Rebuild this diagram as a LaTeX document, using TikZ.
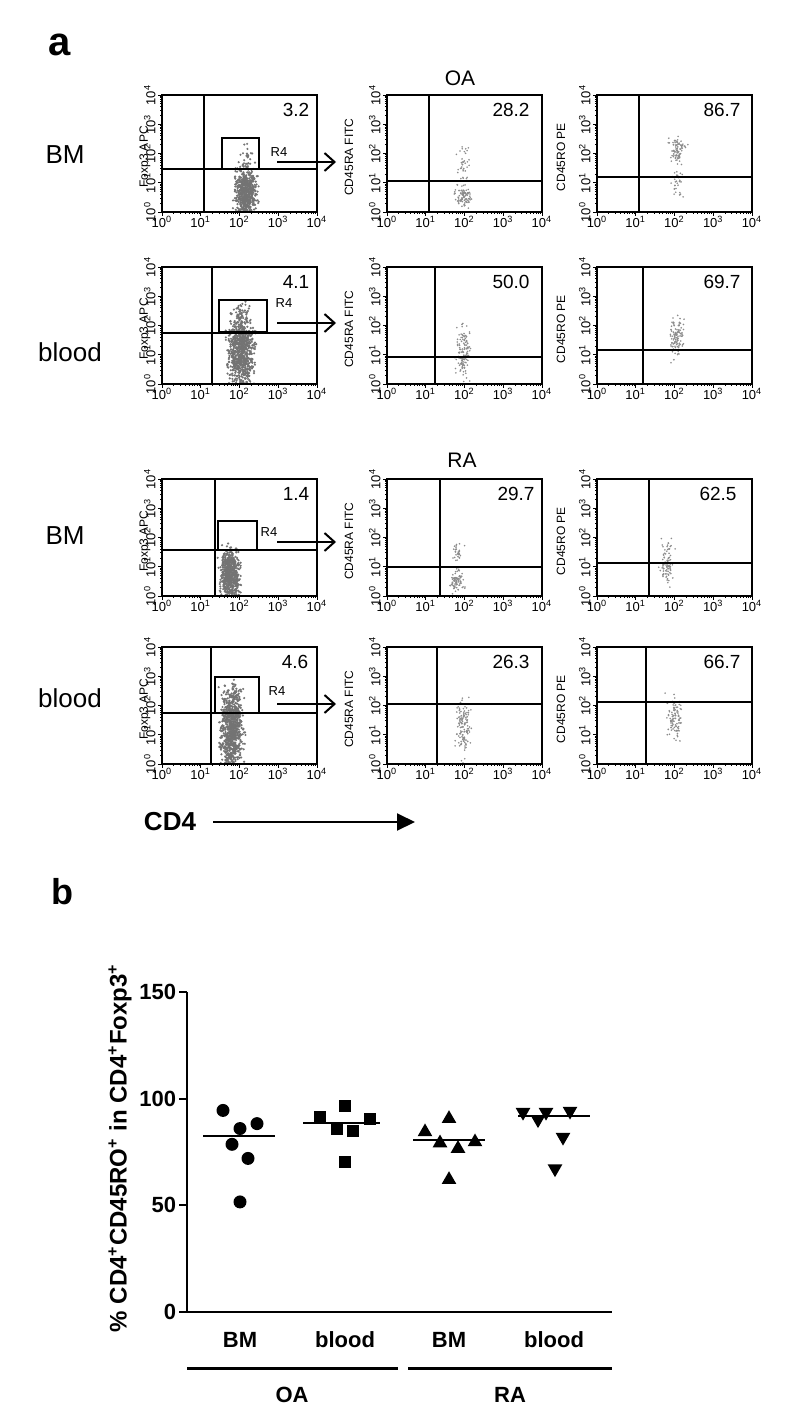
\documentclass[tikz,border=0pt]{standalone}
\usepackage{fontspec}
\setmainfont{Liberation Sans}
\usepackage{tikz}
\usetikzlibrary{arrows,arrows.meta,calc,positioning,shapes.geometric}

\begin{document}
\begin{tikzpicture}[x=0.5pt,y=-0.5pt,
  frameline/.style={line width=0.6pt},
  gatebox/.style={line width=0.6pt},
  gatearrow/.style={line width=1pt,-{Straight Barb[length=5pt,width=9pt]}},
  panelnum/.style={font=\fontsize{9.5}{10}\selectfont},
  ticklab/.style={font=\fontsize{6.5}{6.5}\selectfont,inner sep=0.5pt},
  axtitle/.style={font=\fontsize{6}{6}\selectfont,inner sep=0.5pt,rotate=90},
  rowlab/.style={font=\fontsize{13}{14}\selectfont},
  grouplab/.style={font=\fontsize{10.5}{11}\selectfont},
  bold/.style={font=\fontsize{11}{12}\selectfont\bfseries},
  axisline/.style={line width=1pt},
  meanline/.style={line width=1pt},
  dotc/.style={circle,fill,inner sep=0,minimum size=6.5pt},
  dots/.style={rectangle,fill,inner sep=0,minimum size=6pt},
  dotu/.style={regular polygon,regular polygon sides=3,fill,inner sep=0,minimum size=8.5pt},
  dotd/.style={dotu,shape border rotate=180}]
\useasboundingbox (0,0) rectangle (790,1428);
%Koordinaten in Pixeln, Panel 155 x 117, eine Dekade = 38.75 (x) bzw. 29.25 (y)
\pgfmathsetseed{7}
\node[font=\fontsize{20}{20}\selectfont\bfseries] (lettera) at (60,45) {a};
\node[grouplab] (oa) at (460,78) {OA};
\node[grouplab] (ra) at (462,460) {RA};
\node[rowlab] (bm1) at (65,155) {BM};
\node[rowlab] (bl1) at (70,352) {blood};
\node[rowlab] (bm2) at (65,536) {BM};
\node[rowlab] (bl2) at (70,698) {blood};
%Punktwolken
\foreach \cx/\cy/\sx/\sy/\n/\lx/\ty/\col/\r in {
  246/192/16/34/600/162/95/55/0.6, 246/158/10/18/25/162/95/55/0.6,
  241/352/18/50/800/162/267/55/0.6, 243/315/12/16/50/162/267/55/0.6,
  230/574/14/36/600/162/479/55/0.6,
  232/730/16/55/800/162/647/55/0.6, 236/698/10/22/50/162/647/55/0.6,
  463/196/12/14/90/387/95/45/0.45, 463/165/9/30/40/387/95/45/0.45,
  463/352/10/36/130/387/267/45/0.45,
  457/580/10/16/80/387/479/45/0.45, 457/553/8/16/30/387/479/45/0.45,
  463/728/10/40/130/387/647/45/0.45,
  677/150/12/20/90/597/95/45/0.45, 677/183/9/25/30/597/95/45/0.45,
  677/335/10/30/110/597/267/45/0.45,
  667/565/10/30/90/597/479/45/0.45,
  675/718/11/28/100/597/647/45/0.45}{
  \begin{scope}
    \clip (\lx,\ty) rectangle ++(155,117);
    \foreach \i in {1,...,\n}{
      \fill[black!\col] ({\cx+\sx*(rand+rand+rand)/3},{\cy+\sy*(rand+rand+rand)/3}) circle (\r pt);
    }
  \end{scope}
}
%Rahmen, Quadranten, Achsen
\foreach \lx/\ty/\vx/\hy/\val/\nx in {
  162/95/204/169/3.2/296, 387/95/429/181/28.2/511, 597/95/639/177/86.7/722,
  162/267/212/333/4.1/296, 387/267/435/357/50.0/511, 597/267/643/350/69.7/722,
  162/479/215/550/1.4/296, 387/479/440/567/29.7/516, 597/479/649/563/62.5/718,
  162/647/211/713/4.6/295, 387/647/437/704/26.3/511, 597/647/646/702/66.7/722}{
  \draw[frameline] (\lx,\ty) rectangle ++(155,117);
  \draw[frameline] (\vx,\ty) -- (\vx,\ty+117);
  \draw[frameline] (\lx,\hy) -- (\lx+155,\hy);
  \node[panelnum] at (\nx,\ty+15) {\val};
  \foreach \d in {0,1,2,3}{
    \foreach \k in {1,...,9}{
      \pgfmathsetmacro\tp{(\d+ln(\k)/ln(10))*38.75}
      \pgfmathsetmacro\tq{(\d+ln(\k)/ln(10))*29.25}
      \pgfmathsetmacro\tl{ifthenelse(\k==1,4,2)}
      \draw[line width=0.4pt] (\lx+\tp,\ty+117) -- ++(0,\tl);
      \draw[line width=0.4pt] (\lx,\ty+117-\tq) -- ++(-\tl,0);
    }
  }
  \draw[line width=0.4pt] (\lx+155,\ty+117) -- ++(0,4);
  \draw[line width=0.4pt] (\lx,\ty) -- ++(-4,0);
  \foreach \d in {0,...,4}{
    \node[ticklab,below] at (\lx+\d*38.75,\ty+120) {10\textsuperscript{\d}};
    \node[ticklab,left,rotate=90,anchor=south] at (\lx-5,\ty+117-\d*29.25) {10\textsuperscript{\d}};
  }
}
\foreach \lx/\off/\ttl in {162/17/Foxp3 APC, 387/38/CD45RA FITC, 597/36/CD45RO PE}{
  \foreach \ty in {95,267,479,647}{
    \node[axtitle] at (\lx-\off,\ty+62) {\ttl};
  }
}
%Gates R4 und Pfeile
\draw[gatebox] (222,138) rectangle (259,169);
\draw[gatebox,line width=1.2pt] (219,300) rectangle (267,332);
\draw[gatebox] (218,521) rectangle (257,550);
\draw[gatebox] (215,677) rectangle (259,713);
\foreach \gx/\gy/\ry/\i in {279/152/162/1, 284/303/323/2, 269/532/542/3, 277/691/704/4}{
  \node[ticklab] (rfour\i) at (\gx,\gy) {R4};
  \coordinate (as\i) at (277,\ry);
  \coordinate (ae\i) at (336,\ry);
  \draw[gatearrow] (as\i) -- (ae\i);
}
\node[font=\fontsize{13}{14}\selectfont\bfseries] (cdfour) at (170,822) {CD4};
\coordinate (cdend) at (415,822);
\draw[line width=1pt,-{Triangle[length=9pt,width=8.5pt]}] (cdfour.east) ++(10,0) -- (cdend);

%Teil b: 0 bei y=1312, 50 Prozent = 106.7 px
\node[font=\fontsize{18}{18}\selectfont\bfseries] (letterb) at (62,892) {b};
\node[font=\fontsize{12}{13}\selectfont\bfseries,rotate=90] (ylab) at (120,1148) {\% CD4\textsuperscript{+}CD45RO\textsuperscript{+} in CD4\textsuperscript{+}Foxp3\textsuperscript{+}};
\begin{scope}[shift={(0,1312)},yscale=2.1333]
  \draw[axisline] (187,-150) -- (187,0) -- (612,0);
  \foreach \v in {0,50,100,150}{
    \draw[axisline] (187,-\v) -- (179,-\v) node[bold,left,inner sep=1pt] (yt\v) {\v};
  }
  \foreach \x/\v in {223/94.5, 240/86, 257/88.3, 232/78.6, 248/72, 240/51.6}
    \node[dotc] at (\x,-\v) {};
  \draw[meanline] (203,-82.3) -- (275,-82.3);
  \foreach \x/\v in {345/96.8, 320/91.4, 337/86, 353/85, 370/90.6, 345/70.3}
    \node[dots] at (\x,-\v) {};
  \draw[meanline] (303,-88.6) -- (380,-88.6);
  \foreach \x/\v in {425/84.4, 449/90.6, 440/79.2, 458/76.6, 475/79.7, 449/62}
    \node[dotu] at (\x,-\v) {};
  \draw[meanline] (413,-80.5) -- (485,-80.5);
  \foreach \x/\v in {523/93.7, 538/90.2, 546/93.7, 570/94.2, 563/82, 555/67.2}
    \node[dotd] at (\x,-\v) {};
  \draw[meanline] (518,-91.7) -- (590,-91.7);
\end{scope}
\node[bold] (xbm1) at (240,1340) {BM};
\node[bold] (xbl1) at (345,1340) {blood};
\node[bold] (xbm2) at (449,1340) {BM};
\node[bold] (xbl2) at (554,1340) {blood};
\draw[line width=1.5pt] (187,1368) -- (398,1368);
\draw[line width=1.5pt] (408,1368) -- (612,1368);
\node[bold] (xoa) at (292,1395) {OA};
\node[bold] (xra) at (510,1395) {RA};
\end{tikzpicture}
\end{document}
